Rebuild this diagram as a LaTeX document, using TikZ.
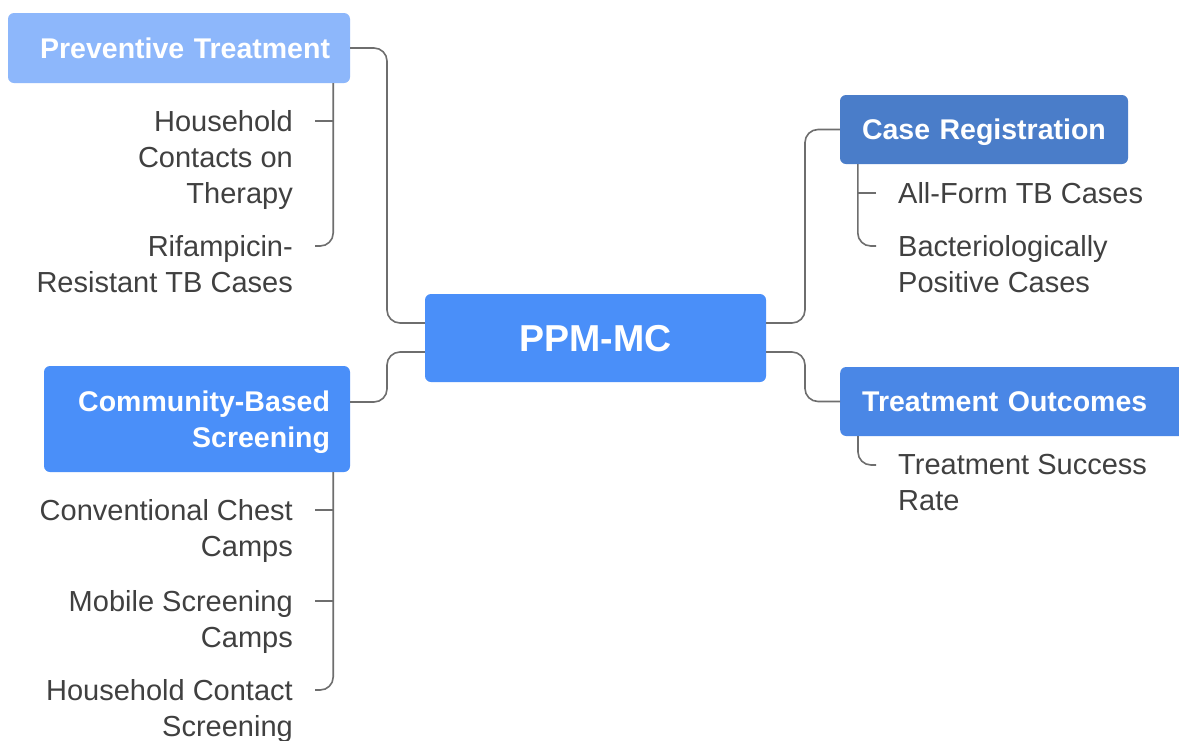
\documentclass[tikz,border=0pt]{standalone}
\usepackage{fontspec}
\setmainfont{Liberation Sans}
\usetikzlibrary{positioning}
\definecolor{rootblue}{HTML}{4A8FF9}
\definecolor{paleblue}{HTML}{8DB7FB}
\definecolor{regblue}{HTML}{4A7DC9}
\definecolor{outblue}{HTML}{4A87E6}
\definecolor{linkgray}{HTML}{6E6E6E}
\definecolor{leafgray}{HTML}{404040}
\begin{document}
\begin{tikzpicture}[x=1pt,y=-1pt,
    topic/.style={rectangle,rounded corners=6pt,text=white,inner ysep=0pt,text depth=0pt,
      font=\fontsize{28.5}{36}\selectfont\bfseries},
    leaf/.style={inner xsep=22pt,inner ysep=0pt,text=leafgray,
      font=\fontsize{29}{36}\selectfont},
    link/.style={draw=linkgray,line width=1.6pt,rounded corners=13pt}]
  \useasboundingbox (0,0) rectangle (1179,740);
  \fill[white] (0,0) rectangle (1179,740);

  % centre and branches
  \node[topic,fill=rootblue,minimum width=341pt,minimum height=88pt,
    font=\fontsize{37.5}{44}\selectfont\bfseries] (ppm) at (595.5,338) {PPM-MC};
  \node[topic,fill=paleblue,text width=302pt,inner xsep=20pt,align=right,
    minimum height=70pt] (pt) at (179,48) {Preventive Treatment};
  \node[topic,fill=rootblue,text width=266pt,inner xsep=20pt,align=right,
    minimum height=106pt,text depth=36pt] (cb) at (197,419) {Community-Based\\Screening};
  \node[topic,fill=regblue,text width=244pt,inner xsep=22pt,align=left,
    minimum height=69pt] (cr) at (984,129.5) {Case Registration};
  \node[topic,fill=outblue,text width=320pt,inner xsep=22pt,align=left,
    minimum height=69pt,anchor=west] (to) at (840,401.5) {Treatment Outcomes};

  % leaves, left side
  \node[leaf,anchor=north east,align=right] (hc) at (315,110) {Household\\Contacts on\\Therapy};
  \node[leaf,anchor=north east,align=right] (rr) at (315,235) {Rifampicin-\\Resistant TB Cases};
  \node[leaf,anchor=north east,align=right] (cc) at (315,499) {Conventional Chest\\Camps};
  \node[leaf,anchor=north east,align=right] (ms) at (315,590) {Mobile Screening\\Camps};
  \node[leaf,anchor=north east,align=right] (hs) at (315,679) {Household Contact\\Screening};
  % leaves, right side
  \node[leaf,anchor=north west,align=left] (af) at (876,182) {All-Form TB Cases};
  \node[leaf,anchor=north west,align=left] (bp) at (876,235) {Bacteriologically\\Positive Cases};
  \node[leaf,anchor=north west,align=left] (ts) at (876,454) {Treatment Success\\Rate};

  \foreach \n in {hc,rr,cc,ms,hs}
    \coordinate (\n-tip) at ([yshift=-11pt]\n.north east);
  \foreach \n in {af,bp,ts}
    \coordinate (\n-tip) at ([yshift=-11pt]\n.north west);

  \coordinate (jl) at (387,0);
  \coordinate (jr) at (805,0);
  \coordinate (cb-in) at ([yshift=17pt]cb.east);
  \coordinate (pt-stem) at ([xshift=-17pt]pt.south east);
  \coordinate (cb-stem) at ([xshift=-17pt]cb.south east);
  \coordinate (cr-stem) at ([xshift=18pt]cr.south west);
  \coordinate (to-stem) at ([xshift=18pt]to.south west);

  % main links
  \draw[link] ([yshift=15pt]ppm.west) -| (jl |- pt.east) -- (pt.east);
  \draw[link] ([yshift=-14pt]ppm.west) -| (jl |- cb-in) -- (cb-in);
  \draw[link] ([yshift=15pt]ppm.east) -| (jr |- cr.west) -- (cr.west);
  \draw[link] ([yshift=-14pt]ppm.east) -| (jr |- to.west) -- (to.west);

  % child links
  \draw[link] (pt-stem) |- (rr-tip);
  \draw[link] (cb-stem) |- (hs-tip);
  \draw[link] (cr-stem) |- (bp-tip);
  \draw[link] (to-stem) |- (ts-tip);
  \foreach \n/\s in {hc/pt-stem,cc/cb-stem,ms/cb-stem,af/cr-stem}
    \draw[link,sharp corners] (\n-tip) -- (\s |- \n-tip);
\end{tikzpicture}
\end{document}
